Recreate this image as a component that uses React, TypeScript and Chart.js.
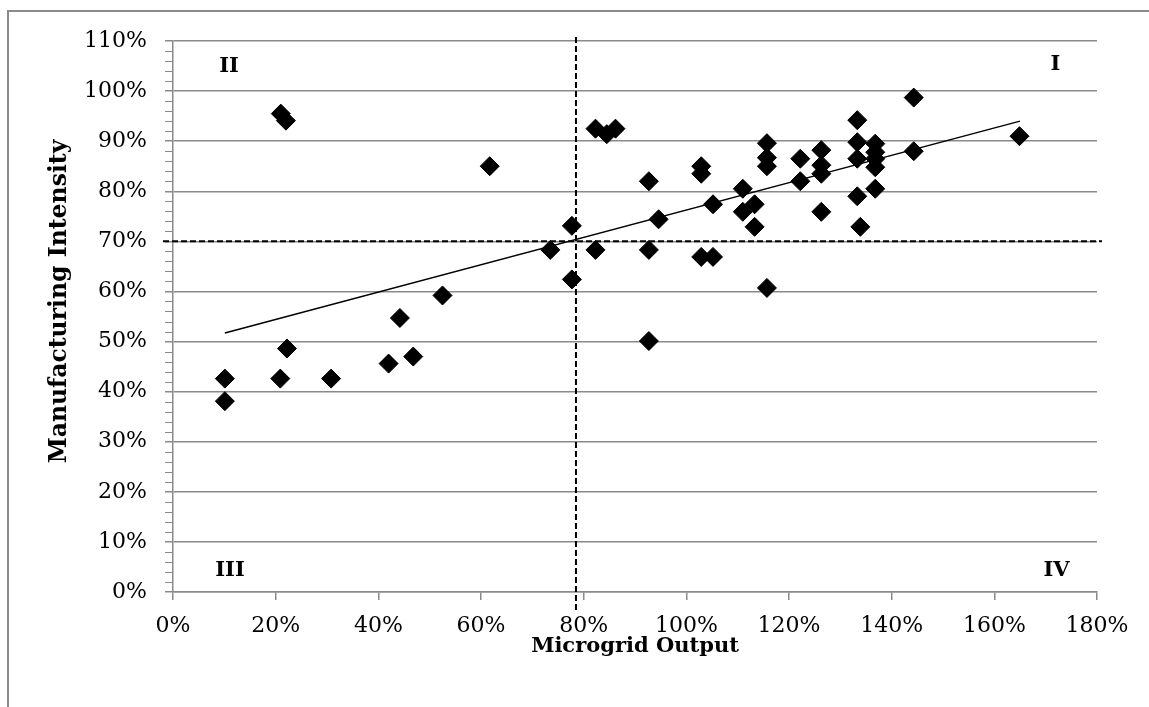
import React, { useEffect, useRef } from "react";
import { Chart, registerables } from "chart.js";

Chart.register(...registerables);

// Microgrid Output (%) / Manufacturing Intensity (%)
const outputX: number[] = [
  10.1, 10.1, 20.9, 22.2, 30.8, 42.0, 44.2, 46.8, 52.5, 21.0, 22.0, 61.7,
  73.5, 77.7, 77.7, 82.3, 84.5, 86.2, 82.3, 92.7, 92.7, 92.7, 94.6,
  102.9, 102.9, 102.9, 105.2, 105.2, 111.0, 111.0, 113.3, 113.3,
  115.7, 115.7, 115.7, 115.7, 122.2, 122.2, 126.3, 126.3, 126.3, 126.3,
  133.3, 133.3, 133.3, 133.3, 133.9, 136.8, 136.8, 136.8, 136.8, 136.8,
  144.3, 144.3, 164.9,
];
const intensityY: number[] = [
  42.6, 38.1, 42.6, 48.6, 42.6, 45.6, 54.7, 47.0, 59.2, 95.5, 94.1, 85.0,
  68.3, 73.1, 62.4, 92.5, 91.4, 92.5, 68.3, 82.0, 68.3, 50.1, 74.4,
  85.0, 83.5, 66.9, 77.4, 66.9, 80.5, 75.9, 77.4, 72.9,
  89.6, 86.7, 85.0, 60.7, 86.5, 82.0, 88.2, 85.2, 83.5, 75.9,
  94.2, 89.8, 86.5, 79.0, 72.9, 89.5, 87.8, 86.5, 84.8, 80.5,
  98.7, 88.0, 91.0,
];

// Linear trend line end points
const trendX: number[] = [10.1, 165.0];
const trendY: number[] = [51.7, 94.0];

// Quadrant divider values
const DIVIDER_X = 78.5;
const DIVIDER_Y = 70;

// Quadrant labels
const quadrantLabels: string[] = ["II", "I", "III", "IV"];
const quadrantX: number[] = [10.9, 171.9, 11.1, 172.1];
const quadrantY: number[] = [104.9, 105.3, 4.3, 4.3];

const xTicks: number[] = [0, 20, 40, 60, 80, 100, 120, 140, 160, 180];
const yTicks: number[] = [0, 10, 20, 30, 40, 50, 60, 70, 80, 90, 100, 110];

const Y_TITLE = "Manufacturing Intensity";
const X_TITLE = "Microgrid Output";

const FONT = "'DejaVu Serif', serif";
const GRAY = "#8a8a8a";

export default function App() {
  const ref = useRef<HTMLCanvasElement | null>(null);

  useEffect(() => {
    if (!ref.current) return;

    const frame = {
      id: "frame",
      beforeDraw(chart: any) {
        const c = chart.ctx;
        c.save();
        c.fillStyle = "#ffffff";
        c.fillRect(0, 0, chart.width, chart.height);
        c.strokeStyle = GRAY;
        c.lineWidth = 2;
        c.strokeRect(8, 11, 3000, 3000);
        c.restore();
      },
    };

    const extras = {
      id: "extras",
      afterDraw(chart: any) {
        const c = chart.ctx;
        const xs = chart.scales.x;
        const ys = chart.scales.y;
        const area = chart.chartArea;
        c.save();
        // minor ticks on y axis
        c.strokeStyle = GRAY;
        c.lineWidth = 1;
        for (let v = 0; v <= 110; v += 2) {
          if (v % 10 === 0) continue;
          const py = Math.round(ys.getPixelForValue(v)) + 0.5;
          c.beginPath();
          c.moveTo(area.left - 8, py);
          c.lineTo(area.left, py);
          c.stroke();
        }
        // dashed quadrant dividers
        c.strokeStyle = "#000";
        c.lineWidth = 2;
        c.setLineDash([6, 3]);
        const px = xs.getPixelForValue(DIVIDER_X);
        c.beginPath();
        c.moveTo(px, area.top - 4);
        c.lineTo(px, area.bottom + 19);
        c.stroke();
        const py = ys.getPixelForValue(DIVIDER_Y);
        c.beginPath();
        c.moveTo(area.left - 10, py);
        c.lineTo(area.right + 5, py);
        c.stroke();
        c.setLineDash([]);
        // quadrant labels
        c.fillStyle = "#000";
        c.font = "bold 21px " + FONT;
        c.textAlign = "center";
        c.textBaseline = "middle";
        quadrantLabels.forEach((t, i) => {
          c.fillText(t, xs.getPixelForValue(quadrantX[i]), ys.getPixelForValue(quadrantY[i]));
        });
        // y axis title
        c.font = "bold 23.5px " + FONT;
        c.translate(60, (area.top + area.bottom) / 2 - 15);
        c.rotate(-Math.PI / 2);
        c.fillText(Y_TITLE, 0, 0);
        c.restore();
      },
    };

    const chart = new Chart(ref.current, {
      type: "scatter",
      data: {
        datasets: [
          {
            type: "line",
            label: "Trend",
            data: trendX.map((x, i) => ({ x, y: trendY[i] })),
            borderColor: "#000",
            borderWidth: 1.5,
            pointRadius: 0,
            fill: false,
            order: 0,
          } as any,
          {
            type: "scatter",
            label: "Data",
            data: outputX.map((x, i) => ({ x, y: intensityY[i] })),
            pointStyle: "rectRot",
            pointRadius: 9.5,
            backgroundColor: "#000",
            borderColor: "#000",
            borderWidth: 1,
            order: 1,
          },
        ],
      },
      options: {
        responsive: false,
        animation: false,
        layout: { padding: { top: 41, right: 52, bottom: 0, left: 0 } },
        plugins: {
          legend: { display: false },
          tooltip: { enabled: false },
        },
        scales: {
          x: {
            type: "linear",
            min: 0,
            max: 180,
            afterBuildTicks: (s: any) => {
              s.ticks = xTicks.map((v) => ({ value: v }));
            },
            afterFit: (s: any) => {
              s.height = 115;
            },
            ticks: {
              color: "#000",
              font: { family: FONT, size: 22 },
              padding: 13,
              maxRotation: 0,
              callback: (v: any) => v + "%",
            },
            grid: {
              display: true,
              drawOnChartArea: false,
              drawTicks: true,
              tickLength: 8,
              color: GRAY,
              lineWidth: 1.5,
            },
            border: { display: true, color: GRAY, width: 1.5 },
            title: {
              display: true,
              text: X_TITLE,
              color: "#000",
              font: { family: FONT, size: 21, weight: "bold" },
              padding: { top: 0, bottom: 48 },
            },
          },
          y: {
            type: "linear",
            min: 0,
            max: 110,
            afterBuildTicks: (s: any) => {
              s.ticks = yTicks.map((v) => ({ value: v }));
            },
            afterFit: (s: any) => {
              s.width = 173;
            },
            ticks: {
              color: "#000",
              font: { family: FONT, size: 22 },
              padding: 18,
              callback: (v: any) => v + "%",
            },
            grid: {
              display: true,
              drawOnChartArea: true,
              drawTicks: true,
              tickLength: 8,
              color: GRAY,
              lineWidth: 1.5,
            },
            border: { display: true, color: GRAY, width: 1.5 },
            title: { display: false },
          },
        },
      },
      plugins: [frame, extras],
    } as any);

    return () => chart.destroy();
  }, []);

  return (
    <div style={{ position: "absolute", left: 0, top: 0, width: 1149, height: 707, background: "#fff" }}>
      <canvas ref={ref} width={1149} height={707} style={{ display: "block" }} />
    </div>
  );
}
